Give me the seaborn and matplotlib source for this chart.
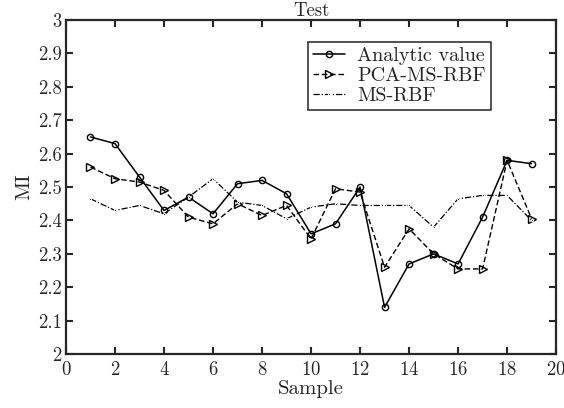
import numpy as np
import pandas as pd
import seaborn as sns
import matplotlib.pyplot as plt

# data
sample = list(range(1, 20))
analytic = [2.65, 2.63, 2.53, 2.43, 2.47, 2.42, 2.51, 2.52, 2.48, 2.36,
            2.39, 2.50, 2.14, 2.27, 2.30, 2.27, 2.41, 2.58, 2.57]
pca_ms_rbf = [2.56, 2.525, 2.515, 2.49, 2.41, 2.39, 2.45, 2.415, 2.445, 2.345,
              2.495, 2.485, 2.26, 2.375, 2.30, 2.255, 2.255, 2.58, 2.405]
ms_rbf = [2.465, 2.43, 2.445, 2.42, 2.47, 2.525, 2.455, 2.445, 2.405, 2.44,
          2.45, 2.445, 2.445, 2.445, 2.38, 2.465, 2.475, 2.475, 2.40]
y_ticks = [2, 2.1, 2.2, 2.3, 2.4, 2.5, 2.6, 2.7, 2.8, 2.9, 3]
y_labels = ['2', '2.1', '2.2', '2.3', '2.4', '2.5', '2.6', '2.7', '2.8', '2.9', '3']
x_ticks = list(range(0, 21, 2))

sns.set_style('ticks')
plt.rcParams['font.family'] = 'serif'
plt.rcParams['font.serif'] = ['cmr10', 'DejaVu Serif']
plt.rcParams['mathtext.fontset'] = 'cm'
plt.rcParams['axes.formatter.use_mathtext'] = True

fig = plt.figure(figsize=(5.64, 4.08), dpi=100)
ax = fig.add_axes([0.117, 0.132, 0.869, 0.819])

df = pd.DataFrame({'Sample': sample, 'a': analytic, 'p': pca_ms_rbf, 'm': ms_rbf})

sns.lineplot(data=df, x='Sample', y='a', ax=ax, color='black', lw=1.1,
             marker='o', markersize=4.5, markerfacecolor='none',
             markeredgecolor='black', markeredgewidth=1.0, label='Analytic value')
sns.lineplot(data=df, x='Sample', y='p', ax=ax, color='black', lw=1.0,
             linestyle=(0, (4, 2)), marker='>', markersize=6,
             markerfacecolor='none', markeredgecolor='black',
             markeredgewidth=1.0, label='PCA-MS-RBF')
sns.lineplot(data=df, x='Sample', y='m', ax=ax, color='black', lw=0.9,
             linestyle=(0, (5, 1.5, 1, 1.5)), marker='.', markersize=3,
             label='MS-RBF')

ax.set_xlim(0, 20)
ax.set_ylim(2, 3)
ax.set_xticks(x_ticks)
ax.set_yticks(y_ticks)
ax.set_yticklabels(y_labels)
ax.tick_params(direction='in', length=5, width=1.5, top=True, right=True,
               labelsize=13.5)
ax.tick_params(axis='x', pad=5)
ax.tick_params(axis='y', pad=3)
for s in ax.spines.values():
    s.set_linewidth(1.6)
ax.set_xlabel('Sample', fontsize=15, labelpad=1)
ax.set_ylabel('MI', fontsize=15, labelpad=3)
ax.set_title('Test', fontsize=13.5, pad=3)

leg = ax.legend(loc='upper left', bbox_to_anchor=(0.494, 0.934), fontsize=14.5,
                frameon=True, fancybox=False, edgecolor='black',
                handlelength=1.6, borderpad=0.25, labelspacing=0.1,
                handletextpad=0.6, borderaxespad=0)
leg.get_frame().set_linewidth(1.2)

plt.savefig('out.png', dpi=100)
